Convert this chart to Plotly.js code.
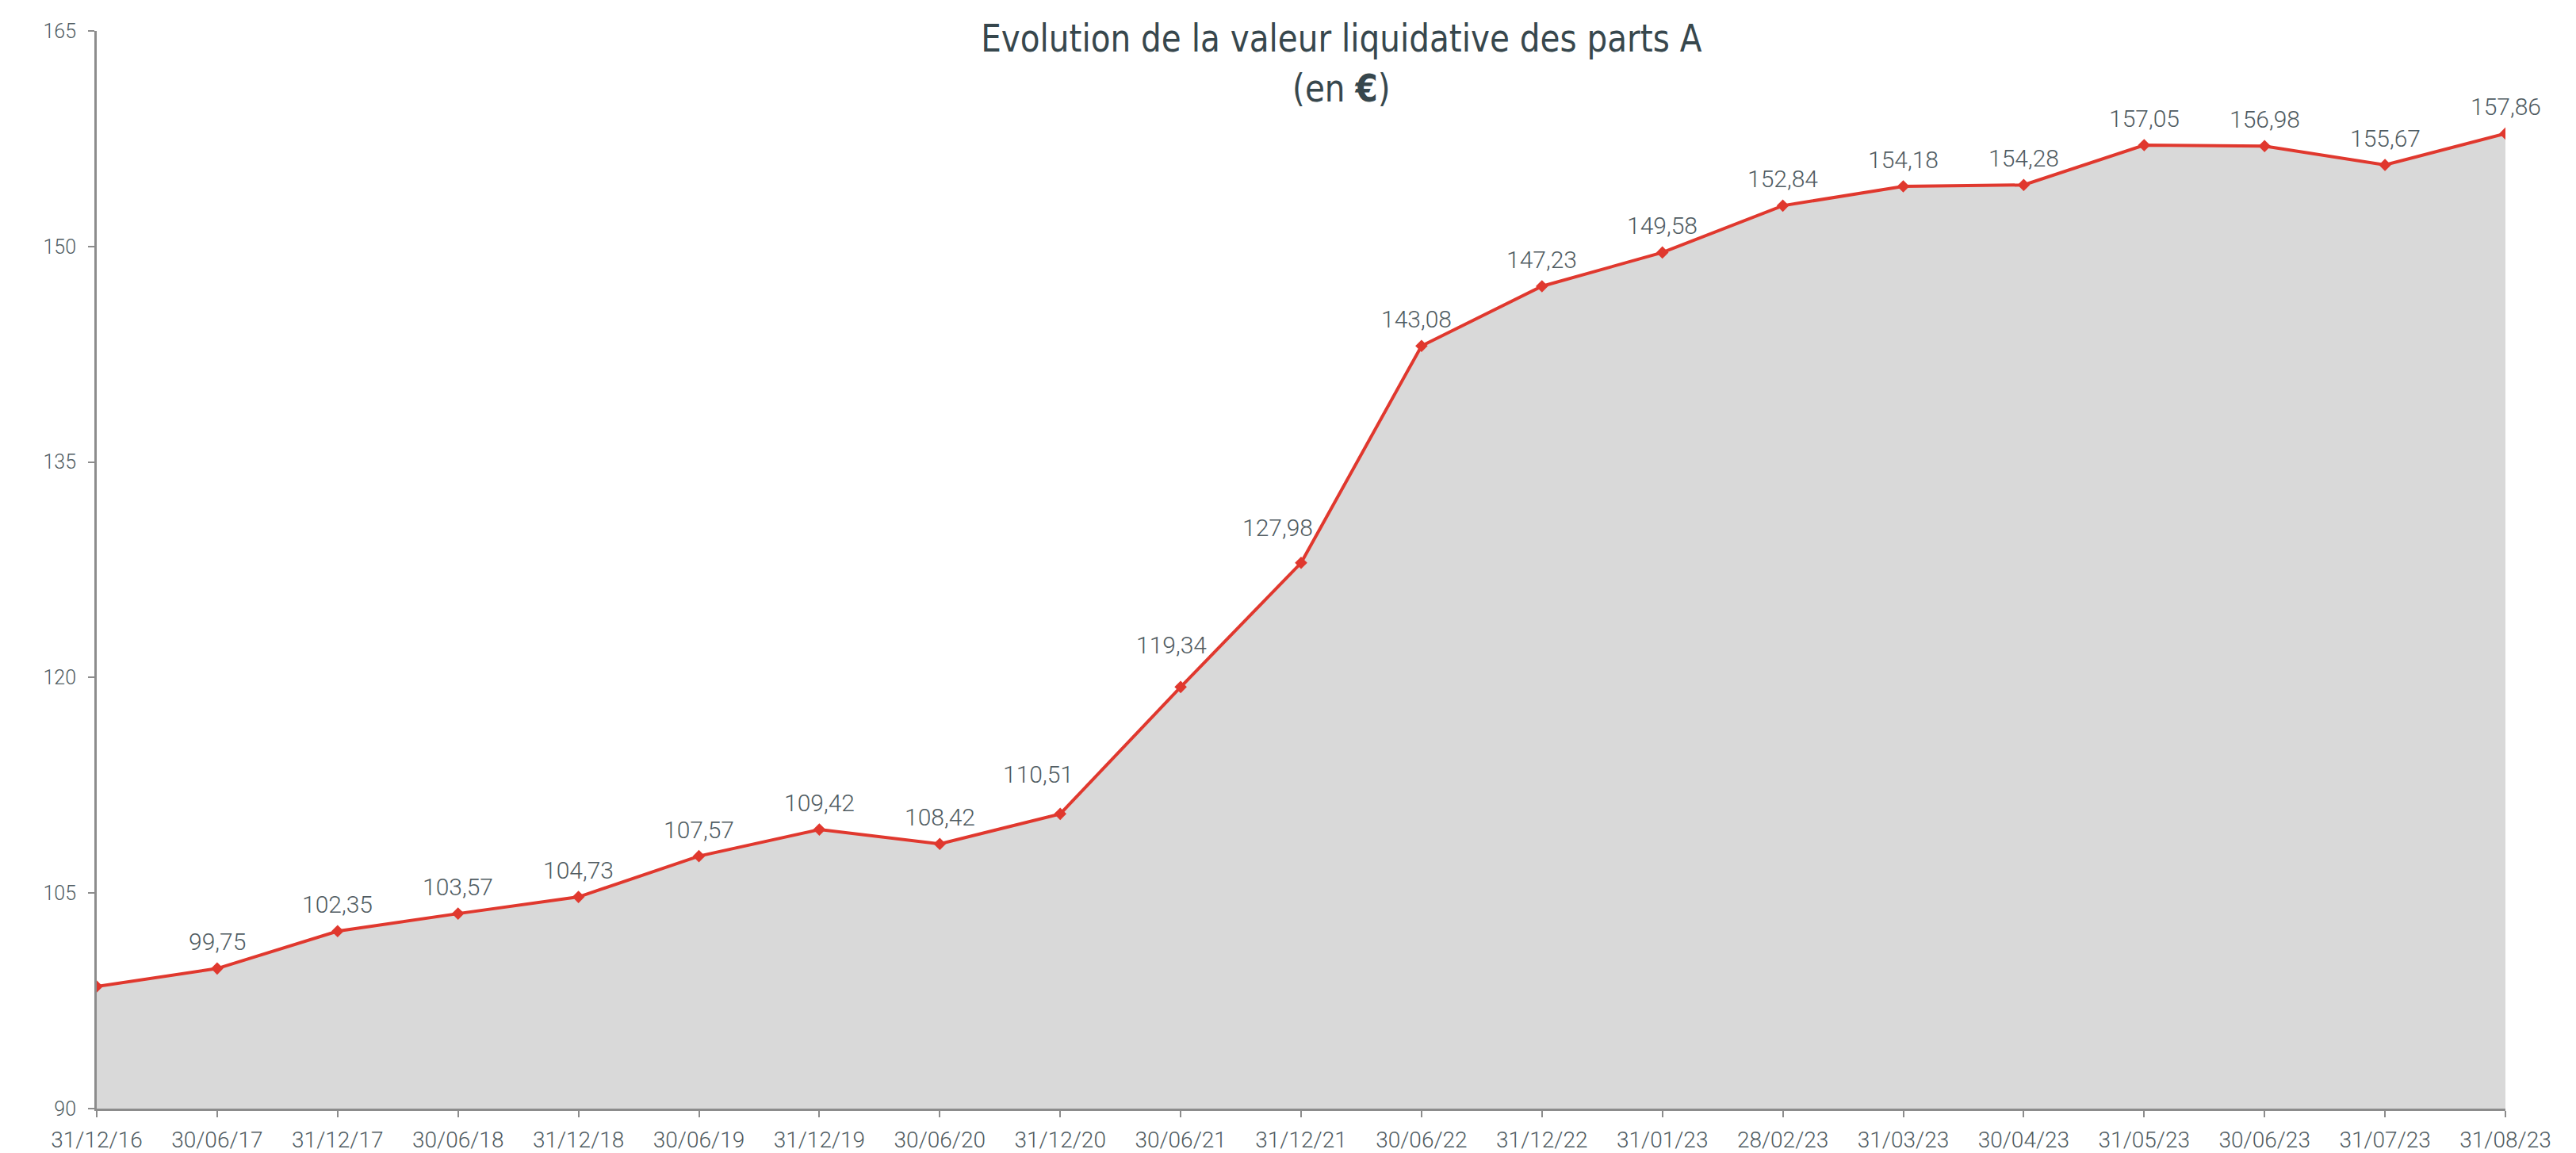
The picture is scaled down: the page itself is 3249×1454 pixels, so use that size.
<!DOCTYPE html>
<html><head><meta charset="utf-8">
<script src="https://cdn.plot.ly/plotly-3.0.1.min.js"></script>
<style>html,body{margin:0;padding:0;background:#fff}#chart{width:3249px;height:1454px}</style>
</head><body><div id="chart"></div>
<script>
const dates = ["31/12/16","30/06/17","31/12/17","30/06/18","31/12/18","30/06/19","31/12/19","30/06/20","31/12/20","30/06/21","31/12/21","30/06/22","31/12/22","31/01/23","28/02/23","31/03/23","30/04/23","31/05/23","30/06/23","31/07/23","31/08/23"];
const values = [98.5,99.75,102.35,103.57,104.73,107.57,109.42,108.42,110.51,119.34,127.98,143.08,147.23,149.58,152.84,154.18,154.28,157.05,156.98,155.67,157.86];
const labels = ["","99,75","102,35","103,57","104,73","107,57","109,42","108,42","110,51","119,34","127,98","143,08","147,23","149,58","152,84","154,18","154,28","157,05","156,98","155,67","157,86"];
const yTicks = [90,105,120,135,150,165];

// label nudges (pixels) for labels moved off steep segments
const labelDx = dates.map(()=>0);
const labelDy = dates.map(()=>0);
labelDx[8] = -28; labelDy[8] = 16;
labelDx[9] = -12; labelDy[9] = 19;
labelDx[10] = -30; labelDy[10] = 11;
labelDx[11] = -6;

const textColor = "#4f5b61";
const annotations = dates.map((d,i)=>({
  x: d, y: values[i], text: labels[i], showarrow:false, xref:'x', yref:'y',
  yanchor:'bottom', xanchor:'center', yshift: 14 + labelDy[i], xshift: labelDx[i],
  font:{family:"Roboto, 'Noto Sans', sans-serif", size:30, color:textColor, weight:300}
}));

const trace = {
  x: dates, y: values, type:'scatter', mode:'lines+markers',
  fill:'tozeroy', fillcolor:'#d9d9d9',
  line:{color:'#e0382e', width:4},
  marker:{symbol:'diamond', size:12, color:'#e0382e'},
  hoverinfo:'skip'
};

const layout = {
  width:3249, height:1454,
  margin:{l:122, r:89, t:39, b:56},
  paper_bgcolor:'#fff', plot_bgcolor:'#fff',
  showlegend:false,
  title:{
    text:"Evolution de la valeur liquidative des parts A<br>(en <b>€</b>)",
    xref:'container', yref:'container', x:0.5208, y:0.955, xanchor:'center', yanchor:'top',
    font:{family:"'DejaVu Sans Condensed', 'DejaVu Sans', sans-serif", size:48, color:'#37474d'}
  },
  xaxis:{
    type:'category', range:[0,20], showgrid:false, zeroline:false,
    showline:true, linecolor:'#8c8c8c', linewidth:3,
    ticks:'outside', ticklen:8, tickwidth:2, tickcolor:'#8c8c8c',
    tickfont:{family:"Roboto, 'Noto Sans', sans-serif", size:28, color:textColor, weight:300},
    ticklabelstandoff: 4
  },
  yaxis:{
    range:[90,165], tickvals:yTicks, ticktext:yTicks.map(String),
    showgrid:false, zeroline:false, showline:true, linecolor:'#8c8c8c', linewidth:3,
    ticks:'outside', ticklen:8, tickwidth:2, tickcolor:'#8c8c8c',
    tickfont:{family:"Roboto, 'Noto Sans', sans-serif", size:25, color:textColor, weight:300},
    ticklabelstandoff: 10
  },
  annotations: annotations
};
Plotly.newPlot('chart',[trace],layout,{displayModeBar:false, staticPlot:true}).then(()=>{
  const t = document.querySelector('.gtitle');
  if (!t) return;
  const bb = t.getBBox();
  const cx = bb.x + bb.width/2;
  const sx = 910 / bb.width;
  t.setAttribute('transform', `translate(1692,0) scale(${sx},1) translate(${-cx},0)`);
});
</script></body></html>
